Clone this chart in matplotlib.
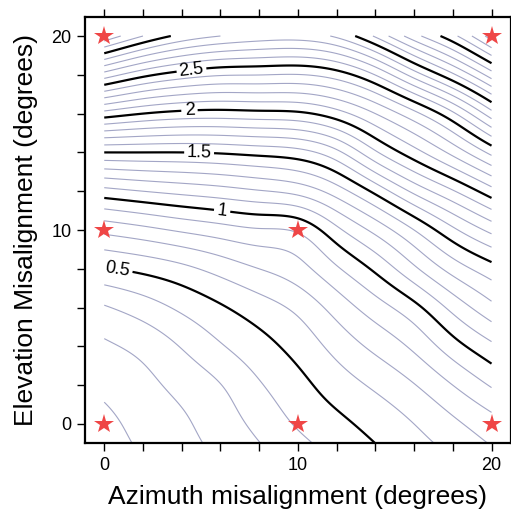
import numpy as np
import matplotlib
matplotlib.use("Agg")
import matplotlib.pyplot as plt

plt.rcParams['font.family'] = ['Liberation Sans', 'DejaVu Sans']

# Grid nodes (degrees)
azimuth = [0, 2, 4, 6, 8, 10, 12, 14, 16, 18, 20]
elevation = [-1, 0, 2, 4, 6, 8, 10, 12, 14, 16, 18, 20]

# Pointing error on the grid, one row per elevation value
pointing_error = [
    [0.065, 0.114, 0.168, 0.228, 0.297, 0.373, 0.440, 0.500, 0.565, 0.633, 0.707],
    [0.075, 0.130, 0.183, 0.250, 0.328, 0.411, 0.474, 0.534, 0.600, 0.678, 0.760],
    [0.125, 0.172, 0.230, 0.297, 0.390, 0.469, 0.547, 0.617, 0.695, 0.800, 0.910],
    [0.185, 0.230, 0.306, 0.390, 0.464, 0.536, 0.633, 0.725, 0.821, 0.956, 1.077],
    [0.290, 0.350, 0.420, 0.488, 0.553, 0.625, 0.740, 0.853, 0.969, 1.130, 1.270],
    [0.490, 0.527, 0.574, 0.637, 0.700, 0.762, 0.886, 1.020, 1.180, 1.340, 1.460],
    [0.730, 0.770, 0.815, 0.856, 0.890, 0.917, 1.075, 1.230, 1.400, 1.578, 1.730],
    [1.065, 1.100, 1.130, 1.158, 1.192, 1.234, 1.350, 1.527, 1.725, 1.890, 2.060],
    [1.500, 1.500, 1.500, 1.511, 1.533, 1.563, 1.673, 1.884, 2.060, 2.230, 2.430],
    [2.060, 2.000, 1.965, 1.956, 1.967, 1.980, 2.058, 2.200, 2.370, 2.580, 2.860],
    [2.656, 2.529, 2.451, 2.409, 2.402, 2.396, 2.450, 2.603, 2.845, 3.080, 3.350],
    [3.280, 3.100, 2.970, 2.900, 2.860, 2.850, 2.920, 3.115, 3.360, 3.570, 3.850],
]

# Test positions marked with stars
star_az = [0, 10, 20, 0, 10, 0, 20]
star_el = [0, 0, 0, 10, 10, 20, 20]

minor_levels = [round(0.1 * k, 1) for k in range(1, 40) if k % 5 != 0]
major_levels = [0.5, 1.0, 1.5, 2.0, 2.5, 3.0, 3.5]
labelled_levels = [0.5, 1.0, 1.5, 2.0, 2.5]
label_positions = [(0.7, 8.0), (6.1, 11.1), (4.9, 14.0), (4.4, 16.2), (4.5, 18.3)]


def natural_spline(xk, yk, xf):
    """Natural cubic spline through (xk, yk[..., i]) evaluated at xf (last axis)."""
    xk = np.asarray(xk, float)
    yk = np.asarray(yk, float)
    n = len(xk)
    h = np.diff(xk)
    A = np.zeros((n, n))
    rhs = np.zeros(yk.shape[:-1] + (n,))
    A[0, 0] = A[-1, -1] = 1.0
    for i in range(1, n - 1):
        A[i, i - 1] = h[i - 1]
        A[i, i] = 2.0 * (h[i - 1] + h[i])
        A[i, i + 1] = h[i]
        rhs[..., i] = 6.0 * ((yk[..., i + 1] - yk[..., i]) / h[i]
                             - (yk[..., i] - yk[..., i - 1]) / h[i - 1])
    m = np.linalg.solve(A, rhs.reshape(-1, n).T).T.reshape(rhs.shape)
    j = np.clip(np.searchsorted(xk, xf) - 1, 0, n - 2)
    x0, x1, hh = xk[j], xk[j + 1], h[j]
    m0, m1 = m[..., j], m[..., j + 1]
    y0, y1 = yk[..., j], yk[..., j + 1]
    return (m0 * (x1 - xf) ** 3 / (6 * hh) + m1 * (xf - x0) ** 3 / (6 * hh)
            + (y0 / hh - m0 * hh / 6) * (x1 - xf) + (y1 / hh - m1 * hh / 6) * (xf - x0))


az_f = np.linspace(min(azimuth), max(azimuth), 401)
el_f = np.linspace(min(elevation), max(elevation), 421)
Z = np.array(pointing_error)
Z_rows = natural_spline(azimuth, Z, az_f)            # (n_el, n_az_f)
Z_f = natural_spline(elevation, Z_rows.T, el_f).T    # (n_el_f, n_az_f)

fig = plt.figure(figsize=(5.11, 5.16), dpi=100)
ax = fig.add_axes([0.1661, 0.1407, 0.8337, 0.8271])

ax.contour(az_f, el_f, Z_f, levels=minor_levels, colors='#a3a6c6', linewidths=0.8)
cs = ax.contour(az_f, el_f, Z_f, levels=major_levels, colors='black', linewidths=1.6)
ax.clabel(cs, levels=labelled_levels, manual=label_positions, inline=True,
          fontsize=13, fmt=lambda v: f"{v:g}", inline_spacing=4)

ax.plot(star_az, star_el, linestyle='none', marker='*', color='#ef4646',
        markersize=15, markeredgewidth=0, clip_on=False, zorder=5)

ax.set_xlim(-1, 21)
ax.set_ylim(-1, 21)
ax.set_xticks([0, 10, 20])
ax.set_yticks([0, 10, 20])
ax.set_xticks(np.arange(0, 21, 2), minor=True)
ax.set_yticks(np.arange(0, 21, 2), minor=True)
ax.tick_params(which='both', direction='out', length=6, width=1,
               top=True, right=True, labelsize=13)
for sp in ax.spines.values():
    sp.set_linewidth(1.6)

ax.set_xlabel('Azimuth misalignment (degrees)', fontsize=19, labelpad=8)
ax.set_ylabel('Elevation Misalignment (degrees)', fontsize=19, labelpad=10)

fig.savefig('out.png', dpi=100)
